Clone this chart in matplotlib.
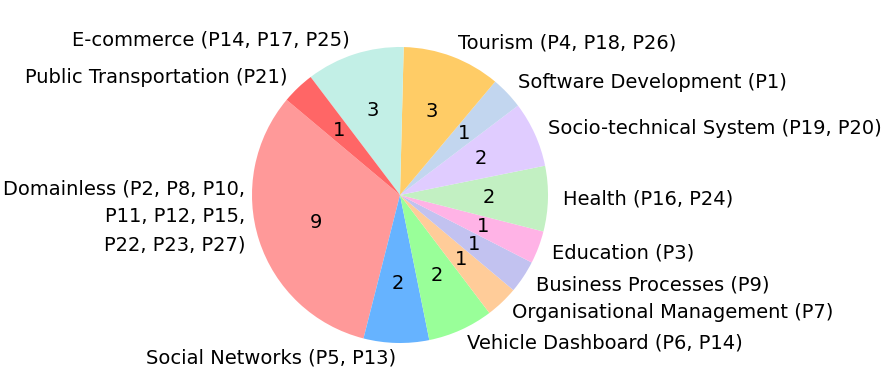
import matplotlib
matplotlib.use("Agg")
import matplotlib.pyplot as plt

categories = [
    "Domainless (P2, P8, P10,\nP11, P12, P15,\nP22, P23, P27)\n\n",
    "Social Networks (P5, P13)",
    "Vehicle Dashboard (P6, P14)",
    "Organisational Management (P7)",
    "Business Processes (P9)",
    "Education (P3)",
    "Health (P16, P24)",
    "Socio-technical System (P19, P20)",
    "Software Development (P1)",
    "Tourism (P4, P18, P26)",
    "E-commerce (P14, P17, P25)",
    "Public Transportation (P21)",
]
counts = [9, 2, 2, 1, 1, 1, 2, 2, 1, 3, 3, 1]
colors = ["#ff9999", "#66b3ff", "#99ff99", "#ffcc99", "#c2c2f0", "#ffb3e6",
          "#c2f0c2", "#e0ccff", "#c2d6ef", "#ffcc66", "#c2efe6", "#ff6666"]

total = sum(counts)

fig = plt.figure(figsize=(8.92, 3.9), dpi=100)
ax = fig.add_axes([215/892, 10/390, 370/892, 370/390])
wedges, texts, autotexts = ax.pie(
    counts, labels=categories, colors=colors, startangle=140,
    autopct=lambda p: f"{round(p*total/100):d}",
    textprops={"fontsize": 14})
for t in texts:
    t.set_linespacing(1.61)
ax.set_aspect("equal")
fig.savefig("out.png", dpi=100)
